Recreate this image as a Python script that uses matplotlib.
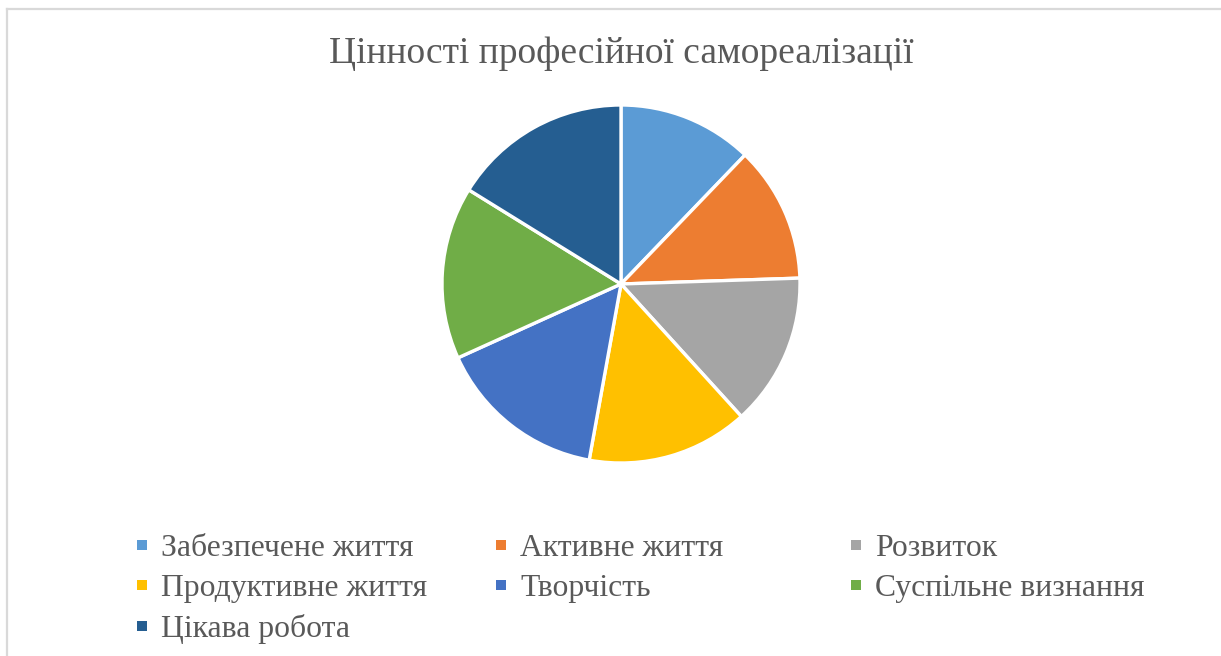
import matplotlib.pyplot as plt
from matplotlib.patches import Rectangle
from matplotlib.lines import Line2D

W, H = 1221, 656

# Дані (частки, %)
labels = [
    "Забезпечене життя",
    "Активне життя",
    "Розвиток",
    "Продуктивне життя",
    "Творчість",
    "Суспільне визнання",
    "Цікава робота",
]
values = [12.2, 12.3, 13.8, 14.6, 15.4, 15.6, 16.2]
colors = ["#5B9BD5", "#ED7D31", "#A5A5A5", "#FFC000", "#4472C4", "#70AD47", "#255E91"]

TEXT_COLOR = "#595959"
FONT = "Liberation Serif"

fig = plt.figure(figsize=(W / 100, H / 100), dpi=100)
fig.patch.set_facecolor("white")

# рамка діаграми
fig.add_artist(Line2D([7 / W, 1.0], [1 - 9 / H, 1 - 9 / H], color="#D9D9D9", lw=1.6))
fig.add_artist(Line2D([7 / W, 7 / W], [0, 1 - 9 / H], color="#D9D9D9", lw=1.6))

# кругова діаграма
cx, cy, r = 621, 284, 179
ax = fig.add_axes([(cx - r) / W, (H - cy - r) / H, 2 * r / W, 2 * r / H])
ax.pie(values, colors=colors, startangle=90, counterclock=False, radius=1.0,
       wedgeprops=dict(edgecolor="white", linewidth=2.4))
ax.set_xlim(-1, 1)
ax.set_ylim(-1, 1)
ax.set_aspect("equal")
ax.axis("off")

fig.text(cx / W, 1 - 63 / H, "Цінності професійної самореалізації",
         ha="center", va="baseline", fontsize=27, color=TEXT_COLOR, family=FONT)

# легенда (3 колонки, по рядках)
col_x = [137, 496, 851]
row_base = [556, 596, 637]
sq = 10
for i, (lab, c) in enumerate(zip(labels, colors)):
    row, col = divmod(i, 3)
    x0 = col_x[col]
    yb = row_base[row]
    fig.add_artist(Rectangle((x0 / W, 1 - (yb - 6) / H), sq / W, sq / H,
                             facecolor=c, edgecolor="none", transform=fig.transFigure))
    fig.text((x0 + 24) / W, 1 - yb / H, lab, ha="left", va="baseline",
             fontsize=22.8, color=TEXT_COLOR, family=FONT)

fig.savefig("out.png", dpi=100)
